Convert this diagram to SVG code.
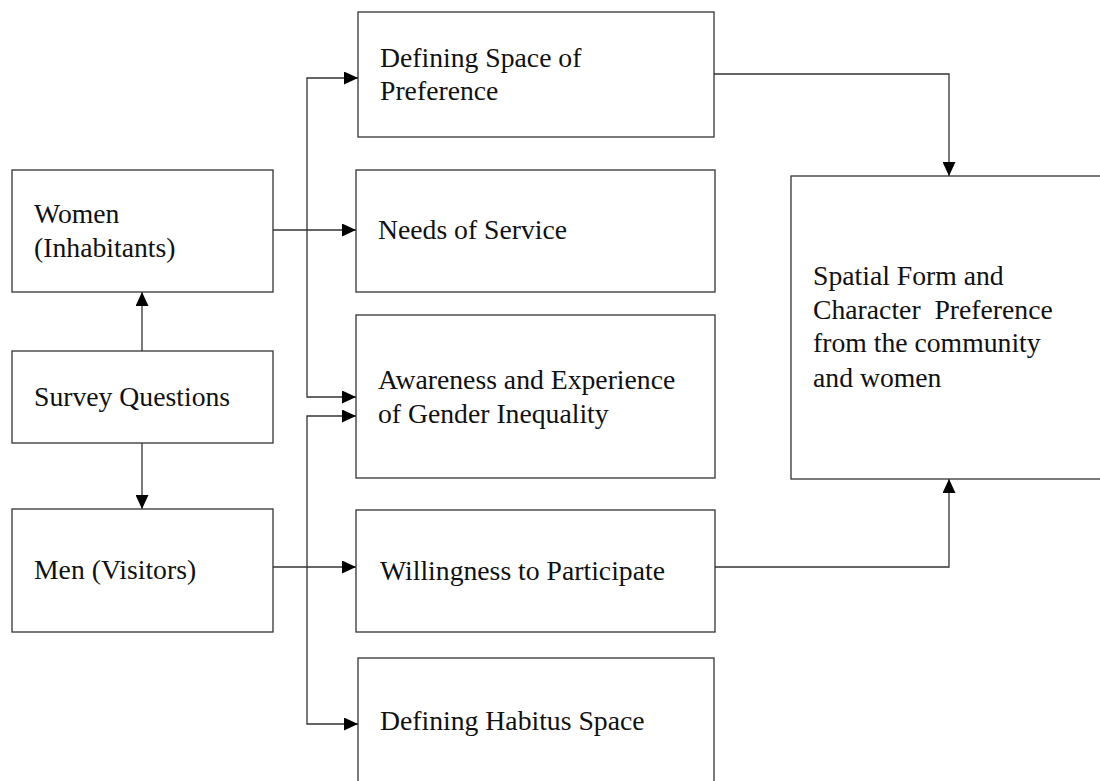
<svg xmlns="http://www.w3.org/2000/svg" width="1100" height="781" viewBox="0 0 1100 781">
<defs>
<style>
.box{fill:#fff;stroke:#333;stroke-width:1.3}
.lbl{font-family:"Liberation Serif","Times New Roman",serif;font-size:27.7px;fill:#111}
.con{fill:none;stroke:#333;stroke-width:1.3}
</style>
<marker id="ah" markerUnits="userSpaceOnUse" markerWidth="14" markerHeight="13" refX="14" refY="6.5" orient="auto">
<path d="M0,0 L14,6.5 L0,13 z" fill="#000"/>
</marker>
</defs>
<rect width="1100" height="781" fill="#fff"/>
<g id="connectors">
<path class="con" d="M142,351 V292" marker-end="url(#ah)"/>
<path class="con" d="M142,443 V509" marker-end="url(#ah)"/>
<path class="con" d="M273,230 H356" marker-end="url(#ah)"/>
<path class="con" d="M307,230 V78 H358" marker-end="url(#ah)"/>
<path class="con" d="M307,230 V397 H356" marker-end="url(#ah)"/>
<path class="con" d="M273,567 H356" marker-end="url(#ah)"/>
<path class="con" d="M307,567 V416 H356" marker-end="url(#ah)"/>
<path class="con" d="M307,567 V724 H358" marker-end="url(#ah)"/>
<path class="con" d="M714,74 H949 V176" marker-end="url(#ah)"/>
<path class="con" d="M715,567 H949 V479" marker-end="url(#ah)"/>
</g>
<g id="women">
<rect class="box" x="12" y="170" width="261" height="122"/>
<text class="lbl" x="34" y="223">Women</text>
<text class="lbl" x="34" y="257">(Inhabitants)</text>
</g>
<g id="survey">
<rect class="box" x="12" y="351" width="261" height="92"/>
<text class="lbl" x="34" y="406">Survey Questions</text>
</g>
<g id="men">
<rect class="box" x="12" y="509" width="261" height="123"/>
<text class="lbl" x="34" y="579">Men (Visitors)</text>
</g>
<g id="defining-space">
<rect class="box" x="358" y="12" width="356" height="125"/>
<text class="lbl" x="380" y="67">Defining Space of</text>
<text class="lbl" x="380" y="100">Preference</text>
</g>
<g id="needs">
<rect class="box" x="356" y="170" width="359" height="122"/>
<text class="lbl" x="378" y="239">Needs of Service</text>
</g>
<g id="awareness">
<rect class="box" x="356" y="315" width="359" height="163"/>
<text class="lbl" x="378" y="389">Awareness and Experience</text>
<text class="lbl" x="378" y="423">of Gender Inequality</text>
</g>
<g id="willingness">
<rect class="box" x="356" y="510" width="359" height="122"/>
<text class="lbl" x="380" y="580">Willingness to Participate</text>
</g>
<g id="habitus">
<rect class="box" x="358" y="658" width="356" height="140"/>
<text class="lbl" x="380" y="730">Defining Habitus Space</text>
</g>
<g id="spatial">
<rect class="box" x="791" y="176" width="330" height="303"/>
<text class="lbl" x="813" y="285">Spatial Form and</text>
<text class="lbl" x="813" y="319" xml:space="preserve">Character  Preference</text>
<text class="lbl" x="813" y="352">from the community</text>
<text class="lbl" x="813" y="387">and women</text>
</g>
</svg>
